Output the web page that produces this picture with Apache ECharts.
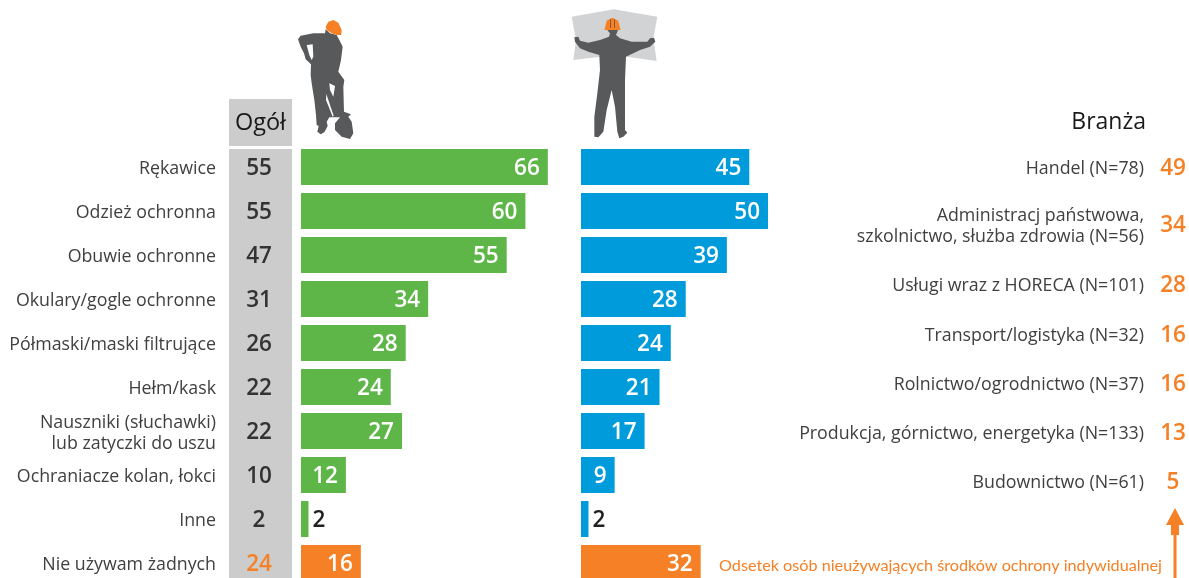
<!DOCTYPE html>
<html>
<head>
<meta charset="utf-8"/>
<title>Środki ochrony indywidualnej</title>
<script src="https://cdn.jsdelivr.net/npm/echarts@6/dist/echarts.min.js"></script>
<style>
  html, body { margin: 0; padding: 0; background: #fff; overflow: hidden; height: 578px; }
  #main { width: 1189px; height: 590px; }
</style>
</head>
<body>
<div id="main"></div>
<script>
// dane
var categories = ['Rękawice', 'Odzież ochronna', 'Obuwie ochronne', 'Okulary/gogle ochronne',
  'Półmaski/maski filtrujące', 'Hełm/kask', 'Nauszniki (słuchawki)\nlub zatyczki do uszu',
  'Ochraniacze kolan, łokci', 'Inne', 'Nie używam żadnych'];
var ogol = [55, 55, 47, 31, 26, 22, 22, 10, 2, 24];
var green = [66, 60, 55, 34, 28, 24, 27, 12, 2, 16];
var blue = [45, 50, 39, 28, 24, 21, 17, 9, 2, 32];
var branzaNames = ['Handel (N=78)', 'Administracj państwowa,\nszkolnictwo, służba zdrowia (N=56)',
  'Usługi wraz z HORECA (N=101)', 'Transport/logistyka (N=32)', 'Rolnictwo/ogrodnictwo (N=37)',
  'Produkcja, górnictwo, energetyka (N=133)', 'Budownictwo (N=61)'];
var branzaValues = [49, 34, 28, 16, 16, 13, 5];

var FONT = '"Open Sans", sans-serif';
var GREEN = '#5db647', BLUE = '#009bdb', ORANGE = '#f58025', GRAY = '#cccccc', TEXT = '#404040', FIG = '#58595b';
var branzaRowY = [169, 226, 286, 336, 385, 434, 483];

function barData(values) {
  return values.map(function (v, i) {
    var item = { value: v };
    if (i === values.length - 1) item.itemStyle = { color: ORANGE };
    if (v < 5) item.label = { position: 'right', distance: 4, color: '#222' };
    return item;
  });
}

function barSeries(values, color, idx) {
  return {
    type: 'bar', xAxisIndex: idx, yAxisIndex: idx, barWidth: 36,
    itemStyle: { color: color }, data: barData(values), silent: true,
    label: { show: true, position: 'insideRight', distance: 8, offset: [0, 2], color: '#fff', fontFamily: FONT, fontSize: 22.5, fontWeight: 600 }
  };
}

// sylwetki, wspolrzedne z powiekszenia 3x
function poly(pts, fill, ox) {
  return { type: 'polygon', x: ox, y: 0, scaleX: 1 / 3, scaleY: 1 / 3, z: 1, silent: true,
    shape: { points: pts }, style: { fill: fill } };
}
var digger = [[137,88],[135,100],[100,100],[62,107],[54,118],[62,140],[72,160],[77,178],[93,193],[92,225],[95,250],[103,300],[108,345],[110,375],[116,378],[112,395],[122,403],[133,397],[143,378],[140,365],[148,352],[180,352],[165,370],[165,390],[185,410],[210,417],[220,400],[215,365],[205,350],[213,343],[192,335],[190,260],[193,240],[175,215],[183,180],[188,140],[178,120],[170,105],[150,100]];
var diggerHole1 = [[80,135],[98,133],[100,170],[95,180],[88,165]];
var diggerHole2 = [[148,250],[165,258],[160,290],[150,270]];
var diggerSlit = [[139,282],[161,347],[158,350],[138,300]];
var diggerHelmet = [[137,80],[145,65],[160,60],[175,68],[185,90],[184,105],[170,105],[155,100],[140,90]];
var sheet = [[35,50],[162,28],[292,50],[280,115],[290,183],[165,165],[40,180],[48,120]];
var reader = [[140,88],[150,100],[147,110],[120,120],[85,128],[60,122],[55,110],[43,112],[45,125],[60,145],[85,155],[118,165],[120,210],[112,280],[103,350],[103,410],[115,412],[130,395],[140,330],[155,270],[165,320],[172,395],[178,415],[190,410],[202,398],[195,390],[195,300],[195,240],[198,170],[240,150],[270,140],[286,125],[282,113],[270,115],[262,125],[215,125],[180,115],[168,105],[175,88]];
var readerHelmet = [[135,84],[140,62],[157,53],[175,62],[180,84],[182,90],[133,90]];
var readerRib1 = [[150,58],[153,57],[153,84],[150,84]];
var readerRib2 = [[162,57],[165,58],[165,84],[162,84]];

function branzaGraphics() {
  var out = [];
  branzaNames.forEach(function (name, i) {
    out.push({ type: 'text', x: 1144, y: branzaRowY[i], silent: true,
      style: { text: name, align: 'right', verticalAlign: 'middle', fill: TEXT, font: '17.8px ' + FONT, lineHeight: 21 } });
    out.push({ type: 'text', x: 1173, y: branzaRowY[i], silent: true,
      style: { text: String(branzaValues[i]), align: 'center', verticalAlign: 'middle', fill: ORANGE, font: '600 22.5px ' + FONT } });
  });
  return out;
}

var graphics = [
  { type: 'rect', z: -10, silent: true, shape: { x: 229, y: 99, width: 63, height: 47 }, style: { fill: GRAY } },
  { type: 'rect', z: -10, silent: true, shape: { x: 229, y: 149, width: 63, height: 429 }, style: { fill: GRAY } },
  { type: 'text', x: 260.5, y: 123, silent: true, style: { text: 'Ogół', align: 'center', verticalAlign: 'middle', fill: '#1a1a1a', font: '23.5px ' + FONT } },
  { type: 'text', x: 1146, y: 122, silent: true, style: { text: 'Branża', align: 'right', verticalAlign: 'middle', fill: '#1a1a1a', font: '23px ' + FONT } },
  { type: 'text', x: 1162, y: 566, silent: true, style: { text: 'Odsetek osób nieużywających środków ochrony indywidualnej', align: 'right', verticalAlign: 'middle', fill: ORANGE, font: '16.2px Lato, sans-serif' } },
  { type: 'polygon', silent: true, shape: { points: [[1175,508],[1184,525],[1179,525],[1179,535],[1176.5,535],[1176.5,578],[1173.5,578],[1173.5,535],[1171,535],[1171,525],[1166,525]] }, style: { fill: ORANGE } },
  poly(digger, FIG, 280), poly(diggerHole1, '#fff', 280), poly(diggerHole2, '#fff', 280), poly(diggerSlit, '#fff', 280), poly(diggerHelmet, ORANGE, 280),
  poly(sheet, '#d1d3d4', 560), poly(reader, FIG, 560), poly(readerHelmet, ORANGE, 560), poly(readerRib1, '#8a5a35', 560), poly(readerRib2, '#8a5a35', 560)
].concat(branzaGraphics());

var lastIdx = categories.length - 1;
var chart = echarts.init(document.getElementById('main'));
chart.setOption({
  animation: false,
  backgroundColor: '#fff',
  textStyle: { fontFamily: FONT },
  grid: [
    { left: 301, top: 145, width: 374, height: 440, containLabel: false },
    { left: 581, top: 145, width: 374, height: 440, containLabel: false },
    // siatka tylko na podpisy wierszy, 2 px nizej zeby tekst trafil w srodek slupka
    { left: 301, top: 147, width: 374, height: 440, containLabel: false }
  ],
  xAxis: [
    { gridIndex: 0, type: 'value', min: 0, max: 100, show: false },
    { gridIndex: 1, type: 'value', min: 0, max: 100, show: false },
    { gridIndex: 2, type: 'value', min: 0, max: 100, show: false }
  ],
  yAxis: [
    { gridIndex: 0, type: 'category', inverse: true, data: categories, show: false },
    { gridIndex: 1, type: 'category', inverse: true, data: categories, show: false },
    { gridIndex: 2, type: 'category', inverse: true, data: categories,
      axisLine: { show: false }, axisTick: { show: false },
      axisLabel: { interval: 0, margin: 85, align: 'right', fontFamily: FONT, fontSize: 17.8, lineHeight: 21, color: TEXT } },
    { gridIndex: 2, type: 'category', inverse: true, position: 'left', data: ogol.map(String),
      axisLine: { show: false }, axisTick: { show: false },
      axisLabel: { interval: 0, margin: 42, align: 'center', fontFamily: FONT, fontSize: 22.5, fontWeight: 600,
        color: function (v, i) { return i === lastIdx ? ORANGE : '#333'; } } }
  ],
  series: [barSeries(green, GREEN, 0), barSeries(blue, BLUE, 1)],
  graphic: { elements: graphics }
});
</script>
</body>
</html>
